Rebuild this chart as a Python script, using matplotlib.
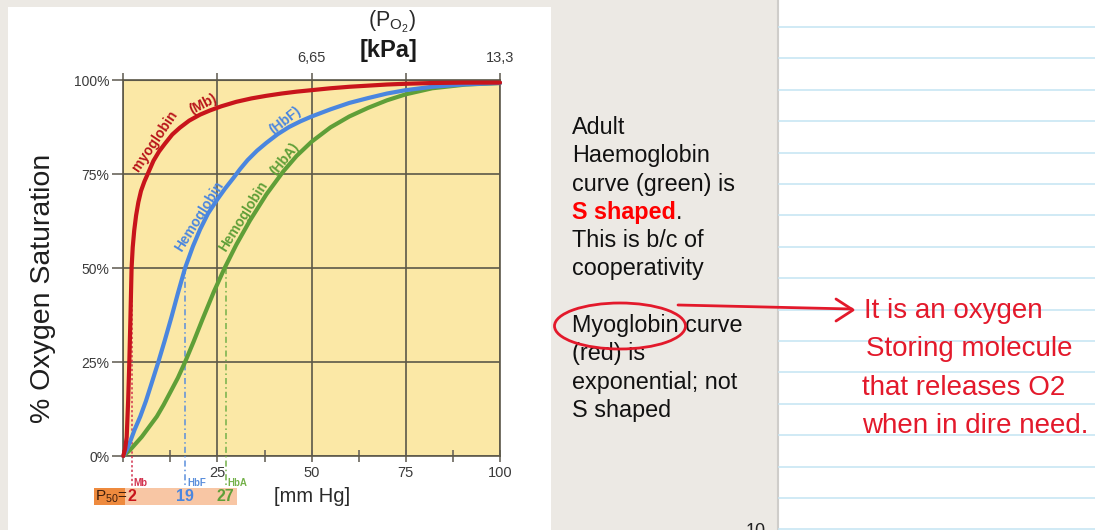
import numpy as np
import matplotlib
matplotlib.use("Agg")
import matplotlib.pyplot as plt
from matplotlib.patches import Rectangle, Ellipse
from matplotlib.lines import Line2D

# ---------------- data ----------------
mb_x = [0, 0.5, 0.9, 1.3, 1.6, 1.9, 2.2, 2.5, 2.9, 3.4, 4.0, 4.7, 5.6, 6.7, 8.0, 9.5, 11, 13, 15,
        17.5, 20.4, 23, 26, 30, 34, 38, 42, 46, 50, 55, 60, 65, 70, 75, 82, 90, 100]
mb_y = [0, 2, 5, 15, 25, 37, 50, 55.5, 60, 64, 67.5, 70.5, 73, 75.5, 78.5, 81, 83, 85.5, 87.3,
        89.2, 90.8, 91.9, 93, 94.2, 95.1, 95.8, 96.4, 96.9, 97.3, 97.8, 98.2, 98.5, 98.8, 99.0,
        99.2, 99.3, 99.3]

hbf_x = [0, 1, 2, 3, 4.5, 6, 7.5, 9.3, 11, 12.8, 14.5, 16.4, 18.5, 20.4, 22.5, 25, 27, 29.2, 31,
         33, 35.5, 38, 41, 44, 47, 50, 55, 60, 65, 70, 75, 82, 90, 100]
hbf_y = [0, 1.8, 4.3, 7, 10.5, 14.6, 19.3, 25, 30.7, 37, 43.3, 50, 55.8, 60.3, 64.5, 68.3, 71.1,
         73.9, 76.3, 78.7, 81.2, 83.3, 85.6, 87.5, 89, 90.3, 92.2, 93.9, 95.2, 96.4, 97.3, 98.2,
         98.8, 99.2]

hba_x = [0, 1.8, 3.3, 4.9, 6.9, 8.9, 10.7, 12.5, 14.5, 16.4, 18.7, 21, 24, 26.9, 30, 33.6, 38,
         42.4, 46, 50, 55, 60, 65, 70, 75, 82, 91, 100]
hba_y = [0, 1.6, 3.3, 5.1, 7.8, 10.5, 13.6, 17, 20.8, 25, 30.5, 36.3, 43.6, 50, 56.2, 62.6, 69.6,
         75.6, 79.8, 83.6, 87.4, 90.3, 92.6, 94.6, 96.2, 97.8, 98.8, 99.2]

p50_names = ["Mb", "HbF", "HbA"]
p50_values = ["2", "19", "27"]
p50_marks = [2.3, 16.4, 27.2]

x_ticks = [0, 25, 50, 75, 100]
x_labels = ["", "25", "50", "75", "100"]
x_minor = [12.5, 37.5, 62.5, 87.5]
y_ticks = [0, 25, 50, 75, 100]
y_labels = ["0%", "25%", "50%", "75%", "100%"]
kpa_ticks = [0, 25, 50, 75, 100]
kpa_labels = ["", "", "6,65", "", "13,3"]

slide_lines = ["Adult", "Haemoglobin", "curve (green) is", None, "This is b/c of",
               "cooperativity", "", "Myoglobin curve", "(red) is",
               "exponential; not", "S shaped"]
note_lines = ["It is an oxygen", "Storing molecule", "that releases O2", "when in dire need."]

# ---------------- styling ----------------
W, H, DPI = 1095, 530, 100
plt.rcParams['font.family'] = ['Liberation Sans', 'DejaVu Sans']
plt.rcParams['mathtext.fontset'] = 'custom'
plt.rcParams['mathtext.rm'] = 'Liberation Sans'
plt.rcParams['mathtext.it'] = 'Liberation Sans:italic'
plt.rcParams['mathtext.bf'] = 'Liberation Sans:bold'

RED, BLUE, GREEN = '#c8141b', '#4a86df', '#5f9f38'
GRID = '#5c5849'
INK = '#e3192b'

fig = plt.figure(figsize=(W / DPI, H / DPI), dpi=DPI)
fig.patch.set_facecolor('#ece9e4')

def fx(px):
    return px / W

def fy(py):
    return 1 - py / H

# white card behind the chart
fig.patches.append(Rectangle((fx(8), fy(530)), fx(551) - fx(8), fy(7) - fy(530),
                             transform=fig.transFigure, facecolor='white',
                             edgecolor='none', zorder=-3))
# lined paper at the right
fig.patches.append(Rectangle((fx(778), 0), 1 - fx(778), 1, transform=fig.transFigure,
                             facecolor='white', edgecolor='none', zorder=-3))
fig.add_artist(Line2D([fx(777.5)] * 2, [0, 1], color='#cfcdca', lw=1.5, zorder=-2))
for py in 27 + 31.4 * np.arange(17):
    fig.add_artist(Line2D([fx(779), 1], [fy(py)] * 2, color='#c8e6f4', lw=1.2, zorder=-2))

# ---------------- chart ----------------
ax = fig.add_axes([fx(123.3), fy(456), fx(500) - fx(123.3), fy(80) - fy(456)])
ax.set_facecolor('#fbe8a6')
ax.set_xlim(0, 100)
ax.set_ylim(0, 100)
for s in ax.spines.values():
    s.set_color(GRID)
    s.set_linewidth(1.2)
ax.grid(True, color=GRID, lw=1.2)
ax.set_axisbelow(True)

ax.set_xticks(x_ticks, labels=x_labels)
ax.set_xticks(x_minor, minor=True)
ax.tick_params(axis='x', which='both', direction='inout', length=8, width=1.2,
               color='#6a665c', labelsize=10.5, labelcolor='#3a3a3a', pad=3)
ax.set_yticks(y_ticks, labels=y_labels)
ax.tick_params(axis='y', direction='out', length=8, width=1.2, color='#6a665c',
               labelsize=10, labelcolor='#3a3a3a', pad=2)

top = ax.secondary_xaxis('top')
top.set_xticks(kpa_ticks, labels=kpa_labels)
top.tick_params(direction='out', length=5, width=1.2, color='#6a665c',
                labelsize=10.5, labelcolor='#3a3a3a', pad=6)
top.spines['top'].set_color(GRID)

for xs, ys, c in [(hba_x, hba_y, GREEN), (hbf_x, hbf_y, BLUE), (mb_x, mb_y, RED)]:
    ax.plot(xs, ys, color=c, lw=3.0, solid_capstyle='round', solid_joinstyle='round',
            clip_on=False, zorder=5)

mark_cols = ['#d2334f', '#5b8fdc', '#74b14a']
mark_styles = [(0, (1.5, 1.5)), (0, (4, 2, 1, 2)), (0, (4, 2, 1, 2))]
for p, name, val, c, ls in zip(p50_marks, p50_names, p50_values, mark_cols, mark_styles):
    ax.plot([p, p], [50, -8], color=c, lw=1.1, ls=ls, clip_on=False, zorder=3)
    ax.text(p + 0.5, -7.3, name, color=c, fontsize=7, weight='bold',
            ha='left', va='center', clip_on=False)

# P50 box
fig.patches.append(Rectangle((fx(94), fy(505)), fx(237) - fx(94), fy(488) - fy(505),
                             transform=fig.transFigure, facecolor='#f8c6a4',
                             edgecolor='none', zorder=-1))
fig.patches.append(Rectangle((fx(94), fy(505)), fx(125) - fx(94), fy(488) - fy(505),
                             transform=fig.transFigure, facecolor='#ee8a3e',
                             edgecolor='none', zorder=-1))
fig.text(fx(95), fy(497), r"P$_{50}$=", fontsize=11, color='#3d1d0c', ha='left', va='center')
for p, val, c in zip(p50_marks, p50_values, [RED, BLUE, GREEN]):
    ax.text(p, -10.9, val, color=c, fontsize=11.5, weight='bold',
            ha='center', va='center', clip_on=False)
ax.text(50, -10.8, "[mm Hg]", fontsize=14.5, color='#2a2a2a', ha='center', va='center',
        clip_on=False)

# curve labels
def ptext(px, py, s, rot, c):
    fig.text(fx(px), fy(py), s, rotation=rot, color=c, fontsize=10, weight='bold',
             ha='center', va='center', rotation_mode='anchor')

ptext(155, 141, "myoglobin", 56, '#b81419')
ptext(203, 104, "(Mb)", 27, '#b81419')
ptext(199, 216, "Hemoglobin", 58, BLUE)
ptext(285, 120, "(HbF)", 38, BLUE)
ptext(243, 216, "Hemoglobin", 58, GREEN)
ptext(285, 159, "(HbA)", 51, GREEN)

# titles
fig.text(fx(392), fy(22), r"(P$_{\mathrm{O}_2}$)", fontsize=15.5, color='#2a2a2a',
         ha='center', va='center')
fig.text(fx(389), fy(50), "[kPa]", fontsize=17, weight='bold', color='#1a1a1a',
         ha='center', va='center')
fig.text(fx(43), fy(288), "% Oxygen Saturation", rotation=90, fontsize=20.5,
         color='#1e1e1e', ha='center', va='center')

# ---------------- slide text ----------------
FS = 16.8
for i, line in enumerate(slide_lines):
    base = 134 + 28.3 * i
    if line is None:
        t = fig.text(fx(572), fy(base), "S shaped", fontsize=FS, weight='bold',
                     color='#ff0000', va='baseline', ha='left')
        fig.canvas.draw()
        bb = t.get_window_extent(fig.canvas.get_renderer())
        fig.text(bb.x1 / W, fy(base), ".", fontsize=FS, color='#111111',
                 va='baseline', ha='left')
    elif line:
        fig.text(fx(572), fy(base), line, fontsize=FS, color='#111111',
                 va='baseline', ha='left')

# ---------------- handwritten note ----------------
fig.patches.append(Ellipse((fx(620), fy(326)), fx(131), 46 / H, angle=0,
                           transform=fig.transFigure, facecolor='none',
                           edgecolor=INK, lw=2.0, zorder=4))
fig.add_artist(Line2D([fx(678), fx(852)], [fy(305), fy(309)], color=INK, lw=2.0,
                      solid_capstyle='round'))
fig.add_artist(Line2D([fx(836), fx(853), fx(836)], [fy(299), fy(310), fy(321)],
                      color=INK, lw=2.0, solid_capstyle='round', solid_joinstyle='round'))

note_left = [864, 866, 862, 862]
for i, line in enumerate(note_lines):
    base = 318 + 38.4 * i
    fig.text(fx(note_left[i]), fy(base), line, fontsize=20, color=INK,
             family=['Liberation Sans Narrow', 'Liberation Sans'], va='baseline', ha='left')

fig.text(fx(756), fy(523), "10", fontsize=13, color='#222222', ha='center', va='top')

fig.savefig("out.png", dpi=DPI, facecolor=fig.get_facecolor())
